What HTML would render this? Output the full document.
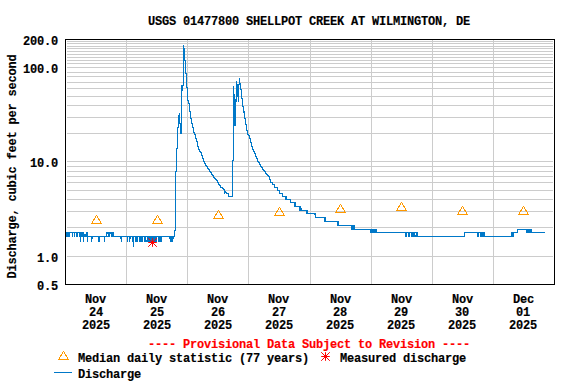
<!DOCTYPE html>
<html><head><meta charset="utf-8"><style>
html,body{margin:0;padding:0;background:#fff;width:576px;height:384px;overflow:hidden;position:relative}
svg{position:absolute;left:0;top:0}
</style></head><body>
<svg width="576" height="384" viewBox="0 0 576 384">
<g fill="#cccccc" shape-rendering="crispEdges"><rect x="67" y="256" width="486" height="1"/><rect x="67" y="227" width="486" height="1"/><rect x="67" y="211" width="486" height="1"/><rect x="67" y="199" width="486" height="1"/><rect x="67" y="190" width="486" height="1"/><rect x="67" y="182" width="486" height="1"/><rect x="67" y="176" width="486" height="1"/><rect x="67" y="171" width="486" height="1"/><rect x="67" y="166" width="486" height="1"/><rect x="67" y="161" width="486" height="1"/><rect x="67" y="133" width="486" height="1"/><rect x="67" y="117" width="486" height="1"/><rect x="67" y="105" width="486" height="1"/><rect x="67" y="96" width="486" height="1"/><rect x="67" y="88" width="486" height="1"/><rect x="67" y="82" width="486" height="1"/><rect x="67" y="76" width="486" height="1"/><rect x="67" y="72" width="486" height="1"/><rect x="67" y="67" width="486" height="1"/><rect x="67" y="63" width="486" height="1"/><rect x="67" y="60" width="486" height="1"/><rect x="67" y="57" width="486" height="1"/><rect x="67" y="54" width="486" height="1"/><rect x="67" y="51" width="486" height="1"/><rect x="67" y="48" width="486" height="1"/><rect x="67" y="46" width="486" height="1"/><rect x="67" y="43" width="486" height="1"/><rect x="67" y="41" width="486" height="1"/><rect x="126" y="40" width="1" height="244"/><rect x="187" y="40" width="1" height="244"/><rect x="248" y="40" width="1" height="244"/><rect x="310" y="40" width="1" height="244"/><rect x="371" y="40" width="1" height="244"/><rect x="432" y="40" width="1" height="244"/><rect x="493" y="40" width="1" height="244"/></g>
<rect x="65.5" y="39.5" width="489" height="245" fill="none" stroke="#000" stroke-width="1" shape-rendering="crispEdges"/>
<g fill="#0078c8" shape-rendering="crispEdges"><rect x="66" y="232" width="1" height="5"/><rect x="67" y="232" width="1" height="5"/><rect x="68" y="232" width="1" height="5"/><rect x="69" y="232" width="1" height="5"/><rect x="70" y="232" width="1" height="1"/><rect x="71" y="232" width="1" height="1"/><rect x="72" y="232" width="1" height="5"/><rect x="73" y="232" width="1" height="1"/><rect x="74" y="232" width="1" height="5"/><rect x="75" y="232" width="1" height="1"/><rect x="76" y="232" width="1" height="5"/><rect x="77" y="232" width="1" height="5"/><rect x="78" y="232" width="1" height="1"/><rect x="79" y="232" width="1" height="5"/><rect x="80" y="232" width="1" height="10"/><rect x="81" y="232" width="1" height="5"/><rect x="82" y="232" width="1" height="5"/><rect x="83" y="232" width="1" height="10"/><rect x="84" y="234" width="1" height="3"/><rect x="85" y="234" width="1" height="3"/><rect x="86" y="232" width="1" height="5"/><rect x="87" y="232" width="1" height="10"/><rect x="88" y="236" width="1" height="1"/><rect x="89" y="236" width="1" height="1"/><rect x="90" y="236" width="1" height="1"/><rect x="91" y="236" width="1" height="6"/><rect x="92" y="236" width="1" height="3"/><rect x="93" y="236" width="1" height="1"/><rect x="94" y="236" width="1" height="1"/><rect x="95" y="236" width="1" height="1"/><rect x="96" y="236" width="1" height="1"/><rect x="97" y="236" width="1" height="1"/><rect x="98" y="236" width="1" height="6"/><rect x="99" y="236" width="1" height="6"/><rect x="100" y="236" width="1" height="1"/><rect x="101" y="236" width="1" height="1"/><rect x="102" y="236" width="1" height="1"/><rect x="103" y="236" width="1" height="1"/><rect x="104" y="236" width="1" height="6"/><rect x="105" y="236" width="1" height="1"/><rect x="106" y="232" width="1" height="5"/><rect x="107" y="232" width="1" height="5"/><rect x="108" y="232" width="1" height="5"/><rect x="109" y="232" width="1" height="5"/><rect x="110" y="232" width="1" height="2"/><rect x="111" y="232" width="1" height="5"/><rect x="112" y="232" width="1" height="5"/><rect x="113" y="232" width="1" height="5"/><rect x="114" y="236" width="1" height="1"/><rect x="115" y="236" width="1" height="1"/><rect x="116" y="236" width="1" height="1"/><rect x="117" y="236" width="1" height="1"/><rect x="118" y="236" width="1" height="1"/><rect x="119" y="236" width="1" height="1"/><rect x="120" y="236" width="1" height="3"/><rect x="121" y="236" width="1" height="6"/><rect x="122" y="236" width="1" height="1"/><rect x="123" y="236" width="1" height="1"/><rect x="124" y="236" width="1" height="1"/><rect x="125" y="236" width="1" height="1"/><rect x="126" y="236" width="1" height="1"/><rect x="127" y="236" width="1" height="6"/><rect x="128" y="236" width="1" height="1"/><rect x="129" y="236" width="1" height="6"/><rect x="130" y="236" width="1" height="3"/><rect x="131" y="236" width="1" height="1"/><rect x="132" y="236" width="1" height="6"/><rect x="133" y="236" width="1" height="11"/><rect x="134" y="236" width="1" height="1"/><rect x="135" y="236" width="1" height="6"/><rect x="136" y="236" width="1" height="6"/><rect x="137" y="236" width="1" height="6"/><rect x="138" y="236" width="1" height="1"/><rect x="139" y="236" width="1" height="6"/><rect x="140" y="236" width="1" height="6"/><rect x="141" y="236" width="1" height="6"/><rect x="142" y="236" width="1" height="6"/><rect x="143" y="236" width="1" height="1"/><rect x="144" y="236" width="1" height="6"/><rect x="145" y="236" width="1" height="6"/><rect x="146" y="236" width="1" height="6"/><rect x="147" y="236" width="1" height="6"/><rect x="148" y="236" width="1" height="6"/><rect x="149" y="236" width="1" height="6"/><rect x="150" y="236" width="1" height="6"/><rect x="151" y="236" width="1" height="6"/><rect x="152" y="236" width="1" height="6"/><rect x="153" y="236" width="1" height="6"/><rect x="154" y="236" width="1" height="6"/><rect x="155" y="236" width="1" height="6"/><rect x="156" y="236" width="1" height="6"/><rect x="157" y="236" width="1" height="1"/><rect x="158" y="236" width="1" height="6"/><rect x="159" y="236" width="1" height="6"/><rect x="160" y="236" width="1" height="6"/><rect x="161" y="236" width="1" height="6"/><rect x="162" y="236" width="1" height="1"/><rect x="163" y="236" width="1" height="1"/><rect x="164" y="236" width="1" height="1"/><rect x="165" y="236" width="1" height="1"/><rect x="166" y="236" width="1" height="1"/><rect x="167" y="236" width="1" height="1"/><rect x="168" y="236" width="1" height="1"/><rect x="169" y="236" width="1" height="3"/><rect x="170" y="236" width="1" height="6"/><rect x="171" y="236" width="1" height="6"/><rect x="172" y="236" width="1" height="6"/><rect x="173" y="236" width="1" height="3"/><rect x="174" y="230" width="1" height="7"/><rect x="175" y="171" width="1" height="60"/><rect x="176" y="148" width="1" height="24"/><rect x="177" y="127" width="1" height="22"/><rect x="178" y="115" width="1" height="13"/><rect x="179" y="113" width="1" height="11"/><rect x="180" y="123" width="1" height="11"/><rect x="181" y="85" width="1" height="49"/><rect x="182" y="85" width="1" height="6"/><rect x="183" y="45" width="1" height="41"/><rect x="184" y="48" width="1" height="13"/><rect x="185" y="60" width="1" height="14"/><rect x="186" y="73" width="1" height="15"/><rect x="187" y="87" width="1" height="14"/><rect x="188" y="100" width="1" height="4"/><rect x="189" y="103" width="1" height="9"/><rect x="190" y="111" width="1" height="8"/><rect x="191" y="118" width="1" height="6"/><rect x="192" y="123" width="1" height="5"/><rect x="193" y="127" width="1" height="6"/><rect x="194" y="132" width="1" height="3"/><rect x="195" y="134" width="1" height="5"/><rect x="196" y="138" width="1" height="4"/><rect x="197" y="141" width="1" height="6"/><rect x="198" y="146" width="1" height="4"/><rect x="199" y="149" width="1" height="3"/><rect x="200" y="151" width="1" height="2"/><rect x="201" y="152" width="1" height="4"/><rect x="202" y="155" width="1" height="4"/><rect x="203" y="158" width="1" height="4"/><rect x="204" y="161" width="1" height="3"/><rect x="205" y="163" width="1" height="3"/><rect x="206" y="165" width="1" height="2"/><rect x="207" y="166" width="1" height="3"/><rect x="208" y="168" width="1" height="2"/><rect x="209" y="169" width="1" height="3"/><rect x="210" y="171" width="1" height="2"/><rect x="211" y="172" width="1" height="3"/><rect x="212" y="174" width="1" height="2"/><rect x="213" y="175" width="1" height="3"/><rect x="214" y="177" width="1" height="2"/><rect x="215" y="178" width="1" height="2"/><rect x="216" y="179" width="1" height="2"/><rect x="217" y="180" width="1" height="3"/><rect x="218" y="182" width="1" height="3"/><rect x="219" y="184" width="1" height="2"/><rect x="220" y="185" width="1" height="3"/><rect x="221" y="187" width="1" height="1"/><rect x="222" y="187" width="1" height="2"/><rect x="223" y="188" width="1" height="2"/><rect x="224" y="189" width="1" height="5"/><rect x="225" y="191" width="1" height="2"/><rect x="226" y="192" width="1" height="2"/><rect x="227" y="193" width="1" height="1"/><rect x="228" y="193" width="1" height="4"/><rect x="229" y="196" width="1" height="1"/><rect x="230" y="196" width="1" height="1"/><rect x="231" y="196" width="1" height="1"/><rect x="232" y="160" width="1" height="37"/><rect x="233" y="86" width="1" height="75"/><rect x="234" y="94" width="1" height="32"/><rect x="235" y="99" width="1" height="27"/><rect x="236" y="81" width="1" height="21"/><rect x="237" y="84" width="1" height="13"/><rect x="238" y="84" width="1" height="18"/><rect x="239" y="78" width="1" height="7"/><rect x="240" y="83" width="1" height="7"/><rect x="241" y="89" width="1" height="10"/><rect x="242" y="98" width="1" height="9"/><rect x="243" y="106" width="1" height="7"/><rect x="244" y="111" width="1" height="8"/><rect x="245" y="118" width="1" height="7"/><rect x="246" y="124" width="1" height="7"/><rect x="247" y="130" width="1" height="5"/><rect x="248" y="134" width="1" height="2"/><rect x="249" y="135" width="1" height="4"/><rect x="250" y="138" width="1" height="5"/><rect x="251" y="142" width="1" height="5"/><rect x="252" y="146" width="1" height="4"/><rect x="253" y="149" width="1" height="3"/><rect x="254" y="151" width="1" height="3"/><rect x="255" y="153" width="1" height="4"/><rect x="256" y="156" width="1" height="3"/><rect x="257" y="158" width="1" height="4"/><rect x="258" y="161" width="1" height="2"/><rect x="259" y="162" width="1" height="3"/><rect x="260" y="164" width="1" height="3"/><rect x="261" y="166" width="1" height="2"/><rect x="262" y="167" width="1" height="3"/><rect x="263" y="169" width="1" height="2"/><rect x="264" y="170" width="1" height="2"/><rect x="265" y="171" width="1" height="3"/><rect x="266" y="173" width="1" height="2"/><rect x="267" y="174" width="1" height="2"/><rect x="268" y="175" width="1" height="2"/><rect x="269" y="176" width="1" height="4"/><rect x="270" y="179" width="1" height="4"/><rect x="271" y="182" width="1" height="1"/><rect x="272" y="182" width="1" height="3"/><rect x="273" y="184" width="1" height="1"/><rect x="274" y="184" width="1" height="4"/><rect x="275" y="187" width="1" height="1"/><rect x="276" y="187" width="1" height="1"/><rect x="277" y="187" width="1" height="4"/><rect x="278" y="190" width="1" height="1"/><rect x="279" y="190" width="1" height="4"/><rect x="280" y="193" width="1" height="1"/><rect x="281" y="193" width="1" height="1"/><rect x="282" y="193" width="1" height="4"/><rect x="283" y="196" width="1" height="1"/><rect x="284" y="196" width="1" height="1"/><rect x="285" y="196" width="1" height="4"/><rect x="286" y="196" width="1" height="4"/><rect x="287" y="199" width="1" height="1"/><rect x="288" y="199" width="1" height="1"/><rect x="289" y="199" width="1" height="1"/><rect x="290" y="199" width="1" height="4"/><rect x="291" y="202" width="1" height="1"/><rect x="292" y="202" width="1" height="1"/><rect x="293" y="202" width="1" height="1"/><rect x="294" y="202" width="1" height="5"/><rect x="295" y="202" width="1" height="5"/><rect x="296" y="206" width="1" height="1"/><rect x="297" y="206" width="1" height="1"/><rect x="298" y="206" width="1" height="1"/><rect x="299" y="206" width="1" height="5"/><rect x="300" y="206" width="1" height="5"/><rect x="301" y="208" width="1" height="3"/><rect x="302" y="210" width="1" height="1"/><rect x="303" y="210" width="1" height="1"/><rect x="304" y="210" width="1" height="1"/><rect x="305" y="210" width="1" height="1"/><rect x="306" y="210" width="1" height="4"/><rect x="307" y="210" width="1" height="4"/><rect x="308" y="213" width="1" height="1"/><rect x="309" y="213" width="1" height="1"/><rect x="310" y="213" width="1" height="1"/><rect x="311" y="213" width="1" height="1"/><rect x="312" y="213" width="1" height="1"/><rect x="313" y="213" width="1" height="1"/><rect x="314" y="213" width="1" height="2"/><rect x="315" y="213" width="1" height="5"/><rect x="316" y="217" width="1" height="1"/><rect x="317" y="217" width="1" height="1"/><rect x="318" y="217" width="1" height="1"/><rect x="319" y="217" width="1" height="1"/><rect x="320" y="217" width="1" height="1"/><rect x="321" y="217" width="1" height="1"/><rect x="322" y="217" width="1" height="1"/><rect x="323" y="217" width="1" height="1"/><rect x="324" y="217" width="1" height="5"/><rect x="325" y="217" width="1" height="5"/><rect x="326" y="221" width="1" height="1"/><rect x="327" y="221" width="1" height="1"/><rect x="328" y="221" width="1" height="1"/><rect x="329" y="221" width="1" height="1"/><rect x="330" y="221" width="1" height="1"/><rect x="331" y="221" width="1" height="1"/><rect x="332" y="221" width="1" height="1"/><rect x="333" y="221" width="1" height="1"/><rect x="334" y="221" width="1" height="1"/><rect x="335" y="221" width="1" height="1"/><rect x="336" y="221" width="1" height="1"/><rect x="337" y="221" width="1" height="5"/><rect x="338" y="221" width="1" height="5"/><rect x="339" y="225" width="1" height="1"/><rect x="340" y="225" width="1" height="1"/><rect x="341" y="225" width="1" height="1"/><rect x="342" y="225" width="1" height="1"/><rect x="343" y="225" width="1" height="1"/><rect x="344" y="225" width="1" height="1"/><rect x="345" y="225" width="1" height="1"/><rect x="346" y="225" width="1" height="1"/><rect x="347" y="225" width="1" height="1"/><rect x="348" y="225" width="1" height="1"/><rect x="349" y="225" width="1" height="1"/><rect x="350" y="225" width="1" height="1"/><rect x="351" y="225" width="1" height="5"/><rect x="352" y="225" width="1" height="5"/><rect x="353" y="225" width="1" height="5"/><rect x="354" y="225" width="1" height="5"/><rect x="355" y="229" width="1" height="1"/><rect x="356" y="229" width="1" height="1"/><rect x="357" y="229" width="1" height="1"/><rect x="358" y="229" width="1" height="1"/><rect x="359" y="229" width="1" height="1"/><rect x="360" y="229" width="1" height="1"/><rect x="361" y="229" width="1" height="1"/><rect x="362" y="229" width="1" height="1"/><rect x="363" y="229" width="1" height="1"/><rect x="364" y="229" width="1" height="1"/><rect x="365" y="229" width="1" height="1"/><rect x="366" y="229" width="1" height="1"/><rect x="367" y="229" width="1" height="1"/><rect x="368" y="229" width="1" height="1"/><rect x="369" y="229" width="1" height="1"/><rect x="370" y="229" width="1" height="4"/><rect x="371" y="229" width="1" height="4"/><rect x="372" y="229" width="1" height="4"/><rect x="373" y="229" width="1" height="4"/><rect x="374" y="229" width="1" height="4"/><rect x="375" y="229" width="1" height="4"/><rect x="376" y="229" width="1" height="4"/><rect x="377" y="232" width="1" height="1"/><rect x="378" y="232" width="1" height="1"/><rect x="379" y="232" width="1" height="1"/><rect x="380" y="232" width="1" height="1"/><rect x="381" y="232" width="1" height="1"/><rect x="382" y="232" width="1" height="1"/><rect x="383" y="232" width="1" height="1"/><rect x="384" y="232" width="1" height="1"/><rect x="385" y="232" width="1" height="1"/><rect x="386" y="232" width="1" height="1"/><rect x="387" y="232" width="1" height="1"/><rect x="388" y="232" width="1" height="1"/><rect x="389" y="232" width="1" height="1"/><rect x="390" y="232" width="1" height="1"/><rect x="391" y="232" width="1" height="1"/><rect x="392" y="232" width="1" height="1"/><rect x="393" y="232" width="1" height="1"/><rect x="394" y="232" width="1" height="1"/><rect x="395" y="232" width="1" height="1"/><rect x="396" y="232" width="1" height="1"/><rect x="397" y="232" width="1" height="1"/><rect x="398" y="232" width="1" height="1"/><rect x="399" y="232" width="1" height="1"/><rect x="400" y="232" width="1" height="1"/><rect x="401" y="232" width="1" height="1"/><rect x="402" y="232" width="1" height="1"/><rect x="403" y="232" width="1" height="1"/><rect x="404" y="232" width="1" height="1"/><rect x="405" y="232" width="1" height="5"/><rect x="406" y="232" width="1" height="5"/><rect x="407" y="232" width="1" height="1"/><rect x="408" y="232" width="1" height="5"/><rect x="409" y="232" width="1" height="5"/><rect x="410" y="232" width="1" height="1"/><rect x="411" y="232" width="1" height="5"/><rect x="412" y="232" width="1" height="5"/><rect x="413" y="232" width="1" height="5"/><rect x="414" y="232" width="1" height="5"/><rect x="415" y="232" width="1" height="5"/><rect x="416" y="232" width="1" height="5"/><rect x="417" y="232" width="1" height="5"/><rect x="418" y="236" width="1" height="1"/><rect x="419" y="236" width="1" height="1"/><rect x="420" y="236" width="1" height="1"/><rect x="421" y="236" width="1" height="1"/><rect x="422" y="236" width="1" height="1"/><rect x="423" y="236" width="1" height="1"/><rect x="424" y="236" width="1" height="1"/><rect x="425" y="236" width="1" height="1"/><rect x="426" y="236" width="1" height="1"/><rect x="427" y="236" width="1" height="1"/><rect x="428" y="236" width="1" height="1"/><rect x="429" y="236" width="1" height="1"/><rect x="430" y="236" width="1" height="1"/><rect x="431" y="236" width="1" height="1"/><rect x="432" y="236" width="1" height="1"/><rect x="433" y="236" width="1" height="1"/><rect x="434" y="236" width="1" height="1"/><rect x="435" y="236" width="1" height="1"/><rect x="436" y="236" width="1" height="1"/><rect x="437" y="236" width="1" height="1"/><rect x="438" y="236" width="1" height="1"/><rect x="439" y="236" width="1" height="1"/><rect x="440" y="236" width="1" height="1"/><rect x="441" y="236" width="1" height="1"/><rect x="442" y="236" width="1" height="1"/><rect x="443" y="236" width="1" height="1"/><rect x="444" y="236" width="1" height="1"/><rect x="445" y="236" width="1" height="1"/><rect x="446" y="236" width="1" height="1"/><rect x="447" y="236" width="1" height="1"/><rect x="448" y="236" width="1" height="1"/><rect x="449" y="236" width="1" height="1"/><rect x="450" y="236" width="1" height="1"/><rect x="451" y="236" width="1" height="1"/><rect x="452" y="236" width="1" height="1"/><rect x="453" y="236" width="1" height="1"/><rect x="454" y="236" width="1" height="1"/><rect x="455" y="236" width="1" height="1"/><rect x="456" y="236" width="1" height="1"/><rect x="457" y="236" width="1" height="1"/><rect x="458" y="236" width="1" height="1"/><rect x="459" y="236" width="1" height="1"/><rect x="460" y="236" width="1" height="1"/><rect x="461" y="236" width="1" height="1"/><rect x="462" y="236" width="1" height="1"/><rect x="463" y="236" width="1" height="1"/><rect x="464" y="232" width="1" height="5"/><rect x="465" y="232" width="1" height="1"/><rect x="466" y="232" width="1" height="1"/><rect x="467" y="232" width="1" height="1"/><rect x="468" y="232" width="1" height="1"/><rect x="469" y="232" width="1" height="1"/><rect x="470" y="232" width="1" height="1"/><rect x="471" y="232" width="1" height="1"/><rect x="472" y="232" width="1" height="1"/><rect x="473" y="232" width="1" height="1"/><rect x="474" y="232" width="1" height="1"/><rect x="475" y="232" width="1" height="1"/><rect x="476" y="232" width="1" height="1"/><rect x="477" y="232" width="1" height="5"/><rect x="478" y="232" width="1" height="5"/><rect x="479" y="232" width="1" height="1"/><rect x="480" y="232" width="1" height="5"/><rect x="481" y="232" width="1" height="5"/><rect x="482" y="232" width="1" height="5"/><rect x="483" y="232" width="1" height="5"/><rect x="484" y="232" width="1" height="5"/><rect x="485" y="236" width="1" height="1"/><rect x="486" y="236" width="1" height="1"/><rect x="487" y="236" width="1" height="1"/><rect x="488" y="236" width="1" height="1"/><rect x="489" y="236" width="1" height="1"/><rect x="490" y="236" width="1" height="1"/><rect x="491" y="236" width="1" height="1"/><rect x="492" y="236" width="1" height="1"/><rect x="493" y="236" width="1" height="1"/><rect x="494" y="236" width="1" height="1"/><rect x="495" y="236" width="1" height="1"/><rect x="496" y="236" width="1" height="1"/><rect x="497" y="236" width="1" height="1"/><rect x="498" y="236" width="1" height="1"/><rect x="499" y="236" width="1" height="1"/><rect x="500" y="236" width="1" height="1"/><rect x="501" y="236" width="1" height="1"/><rect x="502" y="236" width="1" height="1"/><rect x="503" y="236" width="1" height="1"/><rect x="504" y="236" width="1" height="1"/><rect x="505" y="236" width="1" height="1"/><rect x="506" y="236" width="1" height="1"/><rect x="507" y="236" width="1" height="1"/><rect x="508" y="236" width="1" height="1"/><rect x="509" y="236" width="1" height="1"/><rect x="510" y="236" width="1" height="1"/><rect x="511" y="232" width="1" height="5"/><rect x="512" y="232" width="1" height="5"/><rect x="513" y="232" width="1" height="5"/><rect x="514" y="232" width="1" height="1"/><rect x="515" y="232" width="1" height="1"/><rect x="516" y="232" width="1" height="1"/><rect x="517" y="229" width="1" height="4"/><rect x="518" y="229" width="1" height="1"/><rect x="519" y="229" width="1" height="1"/><rect x="520" y="229" width="1" height="1"/><rect x="521" y="229" width="1" height="1"/><rect x="522" y="229" width="1" height="1"/><rect x="523" y="229" width="1" height="1"/><rect x="524" y="229" width="1" height="1"/><rect x="525" y="229" width="1" height="1"/><rect x="526" y="229" width="1" height="4"/><rect x="527" y="229" width="1" height="4"/><rect x="528" y="229" width="1" height="4"/><rect x="529" y="229" width="1" height="4"/><rect x="530" y="229" width="1" height="4"/><rect x="531" y="229" width="1" height="4"/><rect x="532" y="232" width="1" height="1"/><rect x="533" y="232" width="1" height="1"/><rect x="534" y="232" width="1" height="1"/><rect x="535" y="232" width="1" height="1"/><rect x="536" y="232" width="1" height="1"/><rect x="537" y="232" width="1" height="1"/><rect x="538" y="232" width="1" height="1"/><rect x="539" y="232" width="1" height="1"/><rect x="540" y="232" width="1" height="1"/><rect x="541" y="232" width="1" height="1"/><rect x="542" y="232" width="1" height="1"/><rect x="543" y="232" width="1" height="1"/><rect x="544" y="232" width="1" height="1"/></g><g fill="#fff" shape-rendering="crispEdges"><rect x="146" y="237" width="1" height="3"/><rect x="107" y="234" width="1" height="2"/><rect x="110" y="234" width="1" height="2"/><rect x="415" y="233" width="1" height="2"/></g>
<g fill="none" stroke="#ff9900" stroke-width="1" shape-rendering="crispEdges"><polygon points="96.5,215.5 101.5,223.5 91.5,223.5"/><polygon points="157.5,215.5 162.5,223.5 152.5,223.5"/><polygon points="218.5,210.5 223.5,218.5 213.5,218.5"/><polygon points="279.5,207.5 284.5,215.5 274.5,215.5"/><polygon points="340.5,204.5 345.5,212.5 335.5,212.5"/><polygon points="401.5,202.5 406.5,210.5 396.5,210.5"/><polygon points="462.5,206.5 467.5,214.5 457.5,214.5"/><polygon points="523.5,206.5 528.5,214.5 518.5,214.5"/></g>
<g stroke="#ff0000" stroke-width="1"><line x1="148.2" y1="242.5" x2="156.8" y2="242.5"/><line x1="152.5" y1="238.2" x2="152.5" y2="246.8"/><line x1="148.2" y1="238.2" x2="156.8" y2="246.8"/><line x1="156.8" y1="238.2" x2="148.2" y2="246.8"/><circle cx="152.5" cy="242.5" r="1.6" fill="#ff0000" stroke="none"/><line x1="321.2" y1="356.5" x2="329.8" y2="356.5"/><line x1="325.5" y1="352.2" x2="325.5" y2="360.8"/><line x1="321.2" y1="352.2" x2="329.8" y2="360.8"/><line x1="329.8" y1="352.2" x2="321.2" y2="360.8"/><circle cx="325.5" cy="356.5" r="1.6" fill="#ff0000" stroke="none"/></g>
<polygon points="63.5,351.5 68.5,359.5 58.5,359.5" fill="none" stroke="#ff9900" stroke-width="1" shape-rendering="crispEdges"/>
<rect x="54" y="372" width="18" height="1" fill="#0078c8"/>
</svg>
<div style="font-family:'Liberation Mono',monospace;font-weight:bold;font-size:12px;letter-spacing:-0.2px;line-height:13px;white-space:pre;position:absolute;-webkit-text-stroke-width:0.15px;left:148px;top:16px;color:#000;">USGS 01477800 SHELLPOT CREEK AT WILMINGTON, DE</div><div style="font-family:'Liberation Mono',monospace;font-weight:bold;font-size:12px;letter-spacing:-0.2px;line-height:13px;white-space:pre;position:absolute;-webkit-text-stroke-width:0.15px;left:23px;top:36px;color:#000;">200.0</div><div style="font-family:'Liberation Mono',monospace;font-weight:bold;font-size:12px;letter-spacing:-0.2px;line-height:13px;white-space:pre;position:absolute;-webkit-text-stroke-width:0.15px;left:23px;top:64px;color:#000;">100.0</div><div style="font-family:'Liberation Mono',monospace;font-weight:bold;font-size:12px;letter-spacing:-0.2px;line-height:13px;white-space:pre;position:absolute;-webkit-text-stroke-width:0.15px;left:30px;top:158px;color:#000;">10.0</div><div style="font-family:'Liberation Mono',monospace;font-weight:bold;font-size:12px;letter-spacing:-0.2px;line-height:13px;white-space:pre;position:absolute;-webkit-text-stroke-width:0.15px;left:37px;top:253px;color:#000;">1.0</div><div style="font-family:'Liberation Mono',monospace;font-weight:bold;font-size:12px;letter-spacing:-0.2px;line-height:13px;white-space:pre;position:absolute;-webkit-text-stroke-width:0.15px;left:37px;top:281px;color:#000;">0.5</div><div style="font-family:'Liberation Mono',monospace;font-weight:bold;font-size:12px;letter-spacing:-0.2px;line-height:13px;white-space:pre;position:absolute;-webkit-text-stroke-width:0.15px;left:85px;top:294px;color:#000;">Nov</div><div style="font-family:'Liberation Mono',monospace;font-weight:bold;font-size:12px;letter-spacing:-0.2px;line-height:13px;white-space:pre;position:absolute;-webkit-text-stroke-width:0.15px;left:89px;top:307px;color:#000;">24</div><div style="font-family:'Liberation Mono',monospace;font-weight:bold;font-size:12px;letter-spacing:-0.2px;line-height:13px;white-space:pre;position:absolute;-webkit-text-stroke-width:0.15px;left:82px;top:320px;color:#000;">2025</div><div style="font-family:'Liberation Mono',monospace;font-weight:bold;font-size:12px;letter-spacing:-0.2px;line-height:13px;white-space:pre;position:absolute;-webkit-text-stroke-width:0.15px;left:146px;top:294px;color:#000;">Nov</div><div style="font-family:'Liberation Mono',monospace;font-weight:bold;font-size:12px;letter-spacing:-0.2px;line-height:13px;white-space:pre;position:absolute;-webkit-text-stroke-width:0.15px;left:150px;top:307px;color:#000;">25</div><div style="font-family:'Liberation Mono',monospace;font-weight:bold;font-size:12px;letter-spacing:-0.2px;line-height:13px;white-space:pre;position:absolute;-webkit-text-stroke-width:0.15px;left:143px;top:320px;color:#000;">2025</div><div style="font-family:'Liberation Mono',monospace;font-weight:bold;font-size:12px;letter-spacing:-0.2px;line-height:13px;white-space:pre;position:absolute;-webkit-text-stroke-width:0.15px;left:207px;top:294px;color:#000;">Nov</div><div style="font-family:'Liberation Mono',monospace;font-weight:bold;font-size:12px;letter-spacing:-0.2px;line-height:13px;white-space:pre;position:absolute;-webkit-text-stroke-width:0.15px;left:211px;top:307px;color:#000;">26</div><div style="font-family:'Liberation Mono',monospace;font-weight:bold;font-size:12px;letter-spacing:-0.2px;line-height:13px;white-space:pre;position:absolute;-webkit-text-stroke-width:0.15px;left:204px;top:320px;color:#000;">2025</div><div style="font-family:'Liberation Mono',monospace;font-weight:bold;font-size:12px;letter-spacing:-0.2px;line-height:13px;white-space:pre;position:absolute;-webkit-text-stroke-width:0.15px;left:268px;top:294px;color:#000;">Nov</div><div style="font-family:'Liberation Mono',monospace;font-weight:bold;font-size:12px;letter-spacing:-0.2px;line-height:13px;white-space:pre;position:absolute;-webkit-text-stroke-width:0.15px;left:272px;top:307px;color:#000;">27</div><div style="font-family:'Liberation Mono',monospace;font-weight:bold;font-size:12px;letter-spacing:-0.2px;line-height:13px;white-space:pre;position:absolute;-webkit-text-stroke-width:0.15px;left:265px;top:320px;color:#000;">2025</div><div style="font-family:'Liberation Mono',monospace;font-weight:bold;font-size:12px;letter-spacing:-0.2px;line-height:13px;white-space:pre;position:absolute;-webkit-text-stroke-width:0.15px;left:330px;top:294px;color:#000;">Nov</div><div style="font-family:'Liberation Mono',monospace;font-weight:bold;font-size:12px;letter-spacing:-0.2px;line-height:13px;white-space:pre;position:absolute;-webkit-text-stroke-width:0.15px;left:333px;top:307px;color:#000;">28</div><div style="font-family:'Liberation Mono',monospace;font-weight:bold;font-size:12px;letter-spacing:-0.2px;line-height:13px;white-space:pre;position:absolute;-webkit-text-stroke-width:0.15px;left:326px;top:320px;color:#000;">2025</div><div style="font-family:'Liberation Mono',monospace;font-weight:bold;font-size:12px;letter-spacing:-0.2px;line-height:13px;white-space:pre;position:absolute;-webkit-text-stroke-width:0.15px;left:391px;top:294px;color:#000;">Nov</div><div style="font-family:'Liberation Mono',monospace;font-weight:bold;font-size:12px;letter-spacing:-0.2px;line-height:13px;white-space:pre;position:absolute;-webkit-text-stroke-width:0.15px;left:394px;top:307px;color:#000;">29</div><div style="font-family:'Liberation Mono',monospace;font-weight:bold;font-size:12px;letter-spacing:-0.2px;line-height:13px;white-space:pre;position:absolute;-webkit-text-stroke-width:0.15px;left:387px;top:320px;color:#000;">2025</div><div style="font-family:'Liberation Mono',monospace;font-weight:bold;font-size:12px;letter-spacing:-0.2px;line-height:13px;white-space:pre;position:absolute;-webkit-text-stroke-width:0.15px;left:452px;top:294px;color:#000;">Nov</div><div style="font-family:'Liberation Mono',monospace;font-weight:bold;font-size:12px;letter-spacing:-0.2px;line-height:13px;white-space:pre;position:absolute;-webkit-text-stroke-width:0.15px;left:455px;top:307px;color:#000;">30</div><div style="font-family:'Liberation Mono',monospace;font-weight:bold;font-size:12px;letter-spacing:-0.2px;line-height:13px;white-space:pre;position:absolute;-webkit-text-stroke-width:0.15px;left:448px;top:320px;color:#000;">2025</div><div style="font-family:'Liberation Mono',monospace;font-weight:bold;font-size:12px;letter-spacing:-0.2px;line-height:13px;white-space:pre;position:absolute;-webkit-text-stroke-width:0.15px;left:513px;top:294px;color:#000;">Dec</div><div style="font-family:'Liberation Mono',monospace;font-weight:bold;font-size:12px;letter-spacing:-0.2px;line-height:13px;white-space:pre;position:absolute;-webkit-text-stroke-width:0.15px;left:516px;top:307px;color:#000;">01</div><div style="font-family:'Liberation Mono',monospace;font-weight:bold;font-size:12px;letter-spacing:-0.2px;line-height:13px;white-space:pre;position:absolute;-webkit-text-stroke-width:0.15px;left:509px;top:320px;color:#000;">2025</div><div style="font-family:'Liberation Mono',monospace;font-weight:bold;font-size:12px;letter-spacing:-0.2px;line-height:13px;white-space:pre;position:absolute;-webkit-text-stroke-width:0.15px;left:148px;top:339px;color:#ff0000;">---- Provisional Data Subject to Revision ----</div><div style="font-family:'Liberation Mono',monospace;font-weight:bold;font-size:12px;letter-spacing:-0.2px;line-height:13px;white-space:pre;position:absolute;-webkit-text-stroke-width:0.15px;left:78px;top:353px;color:#000;">Median daily statistic (77 years)</div><div style="font-family:'Liberation Mono',monospace;font-weight:bold;font-size:12px;letter-spacing:-0.2px;line-height:13px;white-space:pre;position:absolute;-webkit-text-stroke-width:0.15px;left:340px;top:353px;color:#000;">Measured discharge</div><div style="font-family:'Liberation Mono',monospace;font-weight:bold;font-size:12px;letter-spacing:-0.2px;line-height:13px;white-space:pre;position:absolute;-webkit-text-stroke-width:0.15px;left:78px;top:369px;color:#000;">Discharge</div>
<div style="font-family:'Liberation Mono',monospace;font-weight:bold;font-size:12px;letter-spacing:-0.2px;line-height:13px;white-space:pre;position:absolute;-webkit-text-stroke-width:0.15px;left:-99px;top:160px;width:224px;text-align:center;transform:rotate(-90deg);transform-origin:112px 6.5px;">Discharge, cubic feet per second</div>
</body></html>
